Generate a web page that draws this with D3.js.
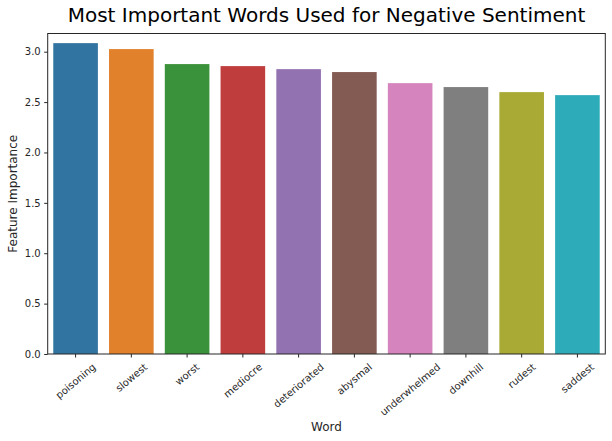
<!DOCTYPE html>
<html><head><meta charset="utf-8">
<script src="https://cdn.jsdelivr.net/npm/d3@7"></script>
<style>body{margin:0;background:#fff}svg{font-family:"DejaVu Sans",sans-serif}</style>
</head><body><svg id="c" width="612" height="441"></svg>
<script>
const words = ["poisoning","slowest","worst","mediocre","deteriorated","abysmal","underwhelmed","downhill","rudest","saddest"];
const importance = [3.085,3.026,2.877,2.857,2.827,2.798,2.688,2.649,2.599,2.569];
const colors = ["#3274a1","#e1812c","#3a923a","#c03d3e","#9372b2","#845b53","#d684bd","#7f7f7f","#a9aa35","#2eabb8"];
const yTicks = [0,0.5,1.0,1.5,2.0,2.5,3.0];

const svg = d3.select("#c");
const L=47.7, R=605.3, T=33.5, B=354;
const x = d3.scaleBand().domain(words).range([L,R]).paddingInner(0.2).paddingOuter(0.1);
const y = d3.scaleLinear().domain([0,3.0]).range([B,51.7]);

svg.selectAll("rect.bar").data(words).enter().append("rect")
  .attr("x",d=>x(d)).attr("width",x.bandwidth())
  .attr("y",(d,i)=>y(importance[i])).attr("height",(d,i)=>B-y(importance[i]))
  .attr("fill",(d,i)=>colors[i]);

// frame
svg.append("rect").attr("x",L).attr("y",T).attr("width",R-L).attr("height",B-T)
  .attr("fill","none").attr("stroke","#262626").attr("stroke-width",1);

// y axis
const ya = svg.append("g").attr("transform",`translate(${L},0)`)
  .call(d3.axisLeft(y).tickValues(yTicks).tickFormat(d3.format(".1f")).tickSize(3.5).tickPadding(3.5));
ya.select(".domain").remove();
ya.selectAll("text").attr("font-size",10).attr("fill","#262626").attr("font-family","DejaVu Sans");
ya.selectAll("line").attr("stroke","#262626");

// x axis
const ang = 40*Math.PI/180;
const xa = svg.append("g").attr("transform",`translate(0,${B})`)
  .call(d3.axisBottom(x).tickSize(3.5).tickPadding(3.5));
xa.select(".domain").remove();
xa.selectAll("line").attr("stroke","#262626");
xa.selectAll("text").each(function(){
  const t=d3.select(this);
  t.attr("font-size",10).attr("fill","#262626").attr("font-family","DejaVu Sans");
  const w=this.getComputedTextLength(), h=11.6;
  const bh=w*Math.sin(ang)+h*Math.cos(ang);
  t.attr("y",null).attr("dy",null).attr("text-anchor","middle").attr("dominant-baseline","central")
   .attr("transform",`translate(0,${7+bh/2}) rotate(-40)`);
});

svg.append("text").attr("x",(L+R)/2).attr("y",431).attr("text-anchor","middle")
  .attr("font-size",12).attr("fill","#262626").text("Word");
svg.append("text").attr("transform",`translate(17,${(T+B)/2}) rotate(-90)`).attr("text-anchor","middle")
  .attr("font-size",12).attr("fill","#262626").text("Feature Importance");
svg.append("text").attr("x",(L+R)/2).attr("y",22).attr("text-anchor","middle")
  .attr("font-size",20).attr("fill","#000").text("Most Important Words Used for Negative Sentiment");
</script></body></html>
